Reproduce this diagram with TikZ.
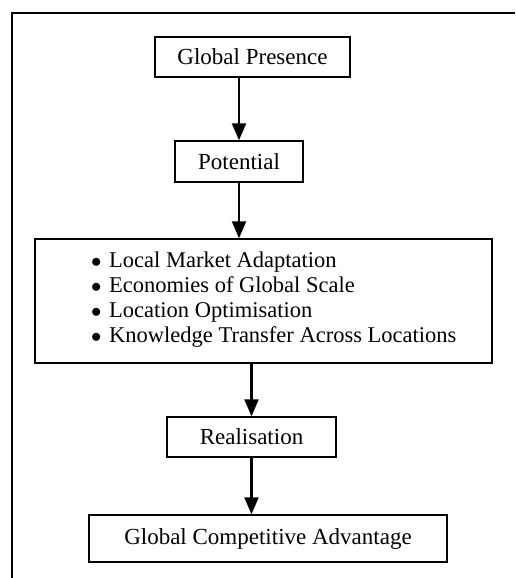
\documentclass[tikz,border=0pt]{standalone}
\usepackage{fontspec}
\setmainfont{Liberation Serif}
\usetikzlibrary{arrows.meta}
\newcommand{\bul}{\makebox[18pt][l]{$\bullet$}}
\begin{document}
\begin{tikzpicture}[x=1pt,y=-1pt,
  box/.style={draw, line width=1.4pt, rectangle, inner sep=0pt, font=\fontsize{23}{27}\selectfont},
  arr/.style={line width=2.2pt, -{Triangle[length=17pt,width=14pt]}},
  frame/.style={line width=1.5pt}]
\useasboundingbox (0,0) rectangle (515,578);
\coordinate (ftop) at (515,13);
\coordinate (fcorner) at (12,13);
\coordinate (fbot) at (12,578);
\draw[frame] (ftop) -- (fcorner) -- (fbot);
\node[box, minimum width=195pt, minimum height=40pt] (gp) at (252.5,57) {Global Presence};
\node[box, minimum width=128pt, minimum height=41pt] (pot) at (239,161.5) {Potential};
\node[box, minimum width=457pt, minimum height=124pt] (list) at (263.5,301) {};
\node[anchor=west, align=left, inner sep=0pt, font=\fontsize{22.5}{25}\selectfont] (listtext) at (91,300)
  {\bul Local Market Adaptation\\
   \bul Economies of Global Scale\\
   \bul Location Optimisation\\
   \bul Knowledge Transfer Across Locations};
\node[box, minimum width=169pt, minimum height=40pt] (real) at (251.5,437) {Realisation};
\node[box, minimum width=358pt, minimum height=47pt] (gca) at (268,538.5) {Global Competitive Advantage};
\draw[arr] (gp.south -| pot.north) -- (pot.north);
\draw[arr] (pot.south) -- (pot.south |- list.north);
\draw[arr] (real.north |- list.south) -- (real.north);
\draw[arr] (real.south) -- (real.south |- gca.north);
\end{tikzpicture}
\end{document}
